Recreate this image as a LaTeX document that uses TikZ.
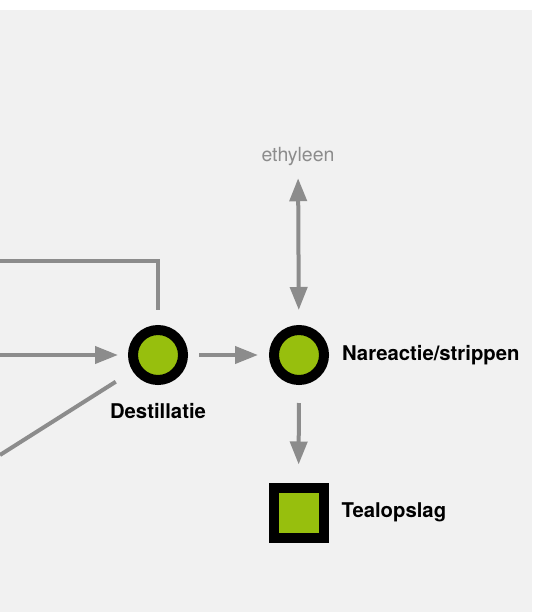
\documentclass[tikz,border=0pt]{standalone}
\usepackage{fontspec}
\setmainfont{TeX Gyre Heros}
\usetikzlibrary{arrows.meta}
\definecolor{linegray}{HTML}{8C8C8C}
\definecolor{procgreen}{HTML}{97BF0D}
\definecolor{bggray}{HTML}{F1F1F1}

\begin{document}
\begin{tikzpicture}
    [
    x=1pt, y=-1pt,
    proces/.style={circle,draw=black,line width=10pt,fill=procgreen,inner sep=0pt,minimum size=50pt},
    opslag/.style={rectangle,draw=black,line width=10pt,fill=procgreen,inner sep=0pt,minimum size=50pt},
    naam/.style={font=\fontsize{20.3}{24}\selectfont\bfseries,text=black,inner sep=0pt,outer sep=0pt},
    stof/.style={font=\fontsize{19.5}{23}\selectfont,text=linegray,inner sep=0pt,outer sep=0pt},
    flow/.style={draw=linegray,line width=4pt},
    pijl/.style={flow,-{Triangle[length=23pt,width=17pt]}},
    dubbelpijl/.style={flow,{Triangle[length=23pt,width=17pt]}-{Triangle[length=23pt,width=17pt]}}
    ]
    \fill [white] (0,0) rectangle (532,10);
    \fill [bggray] (0,10) rectangle (532,612);
    \useasboundingbox (0,0) rectangle (532,612);

    \node (destil) at (158,355) [proces, label={[naam,label distance=18pt]below:Destillatie}] {};
    \node (nareactie) at (299,355) [proces, label={[naam,label distance=13pt]right:Nareactie/strippen}] {};
    \node (tealopslag) at (298.5,512.5) [opslag, label={[naam,label distance=13pt]right:Tealopslag}] {};
    \node (ethyleen) at (298,162) [stof, anchor=base] {ethyleen};

    \coordinate (topin) at (0,261);
    \coordinate (midin) at (0,355);
    \coordinate (lowin) at (0,455);

    \draw [flow, shorten >=15pt] (topin) -| (destil);
    \draw [pijl, shorten >=10pt] (midin) -- (destil);
    \draw [flow, shorten >=20pt] (lowin) -- (destil);
    \draw [pijl, shorten <=11pt, shorten >=11pt] (destil) -- (nareactie);
    \draw [dubbelpijl, shorten <=12pt, shorten >=15pt] (ethyleen) -- (nareactie);
    \draw [pijl, shorten <=18pt, shorten >=18pt] (nareactie) -- (tealopslag);
\end{tikzpicture}
\end{document}
